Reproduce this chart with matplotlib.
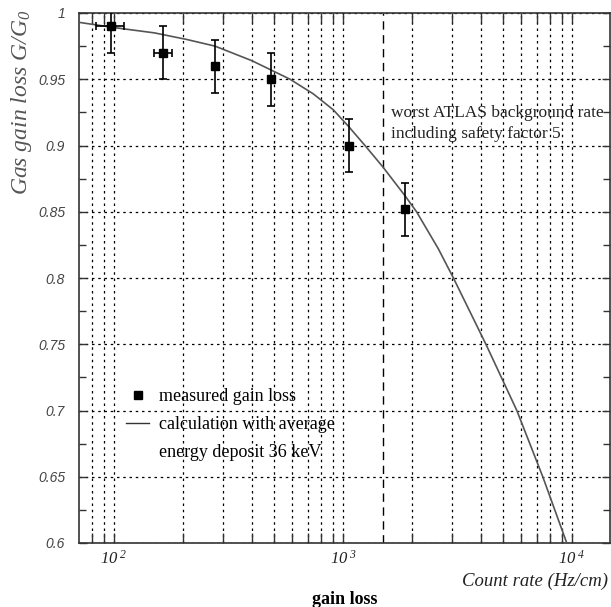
import numpy as np
import matplotlib
matplotlib.use("Agg")
import matplotlib.pyplot as plt
from matplotlib.lines import Line2D
from matplotlib.ticker import FixedLocator, FixedFormatter, LogLocator, MultipleLocator, NullFormatter

plt.rcParams['mathtext.fontset'] = 'custom'
plt.rcParams['mathtext.rm'] = 'Liberation Serif:italic'
plt.rcParams['mathtext.it'] = 'Liberation Serif:italic'

# measured gain loss
rate = [97, 164, 276, 483, 1062, 1858]
rate_err = [14, 15, 8, np.nan, np.nan, np.nan]
gain = [0.990, 0.970, 0.960, 0.950, 0.900, 0.852]
gain_err = [0.02, 0.02, 0.02, 0.02, 0.02, 0.02]

# calculation, average energy deposit 36 keV
calc_rate = [70, 100, 150, 208, 276, 400, 587, 741, 906, 1062, 1247, 1490,
             1866, 2094, 2608, 3034, 4207, 5740, 7452, 9484, 9800]
calc_gain = [0.993, 0.989, 0.985, 0.980, 0.975, 0.964, 0.950, 0.939, 0.927,
             0.914, 0.900, 0.884, 0.862, 0.850, 0.822, 0.800, 0.750, 0.700,
             0.650, 0.600, 0.592]

background_rate = 1500   # worst ATLAS background rate incl. safety factor 5

xtick_values = [100, 1000, 10000]
xtick_labels = ['$10^{\\ 2}$', '$10^{\\ 3}$', '$10^{\\ 4}$']
ytick_values = [0.6, 0.65, 0.7, 0.75, 0.8, 0.85, 0.9, 0.95, 1.0]
ytick_labels = ['0.6', '0.65', '0.7', '0.75', '0.8', '0.85', '0.9', '0.95', '1']

legend_labels = ['measured gain loss', 'calculation with average', 'energy deposit 36 keV']

fig = plt.figure(figsize=(6.11, 6.07), dpi=100)
ax = fig.add_axes([79/611, 64/607, 531/611, 530/607])

ax.set_xscale('log')
ax.set_xlim(70.3, 14650)
ax.set_ylim(0.6, 1.0)

dotted = (0, (2, 3))
ax.xaxis.set_major_locator(FixedLocator(xtick_values))
ax.xaxis.set_major_formatter(FixedFormatter(xtick_labels))
ax.xaxis.set_minor_locator(LogLocator(base=10, subs=np.arange(2, 10)))
ax.xaxis.set_minor_formatter(NullFormatter())
ax.yaxis.set_major_locator(FixedLocator(ytick_values))
ax.yaxis.set_major_formatter(FixedFormatter(ytick_labels))
ax.yaxis.set_minor_locator(MultipleLocator(0.025))

ax.grid(True, which='both', axis='x', color='black', lw=0.9, ls=dotted)
ax.grid(True, which='major', axis='y', color='black', lw=0.9, ls=dotted)
for t in ax.xaxis.get_major_ticks():
    if t.get_loc() >= 10000:
        t.gridline.set_visible(False)

ax.axvline(background_rate, color='black', lw=1.0, ls=(0, (6, 4)))

ax.tick_params(which='both', direction='in', top=True, right=True, color='#333333', width=1.0)
ax.tick_params(axis='x', which='both', length=7, pad=5, labelsize=12, labelcolor='#222222')
ax.tick_params(axis='y', which='major', length=6, pad=10, labelsize=10, labelcolor='#444444')
ax.tick_params(axis='y', which='minor', length=5)
for lab in ax.get_yticklabels():
    lab.set_family('Liberation Sans')
    lab.set_style('italic')

for s in ax.spines.values():
    s.set_color('#333333')
    s.set_linewidth(1.2)

ax.plot(calc_rate, calc_gain, color='#555555', lw=1.2, zorder=3)
ax.errorbar(rate, gain, xerr=rate_err, yerr=gain_err, fmt='s', color='black',
            ms=5.5, capsize=3.2, elinewidth=1.2, capthick=1.2, zorder=4)

ax.text(0.5876, 0.826, 'worst ATLAS background rate\nincluding safety factor 5',
        transform=ax.transAxes, ha='left', va='top', fontsize=12.5,
        family='Liberation Serif', color='#222222', linespacing=1.4)

handles = [Line2D([], [], marker='s', ls='none', color='black', ms=6),
           Line2D([], [], color='#333333', lw=1.0),
           Line2D([], [], ls='none')]
ax.legend(handles, legend_labels, loc='upper left', bbox_to_anchor=(0.0885, 0.292),
          frameon=False, borderpad=0, borderaxespad=0, handlelength=1.3,
          handletextpad=0.55, labelspacing=0.6,
          prop={'family': 'Liberation Serif', 'size': 13})

fig.text(22/611, 1 - 10/607, 'Gas gain loss G/G$_0$', rotation=90, ha='center', va='top',
         fontsize=17, family='Liberation Serif', style='italic', color='#555555')
fig.text(608/611, 1 - 581.5/607, 'Count rate (Hz/cm)', ha='right', va='center',
         fontsize=13.5, family='Liberation Serif', style='italic', color='#222222')
fig.text(344.5/611, 1 - 600/607, 'gain loss', ha='center', va='center',
         fontsize=13, family='Liberation Serif', weight='bold', color='black')

fig.savefig('out.png', dpi=100)
